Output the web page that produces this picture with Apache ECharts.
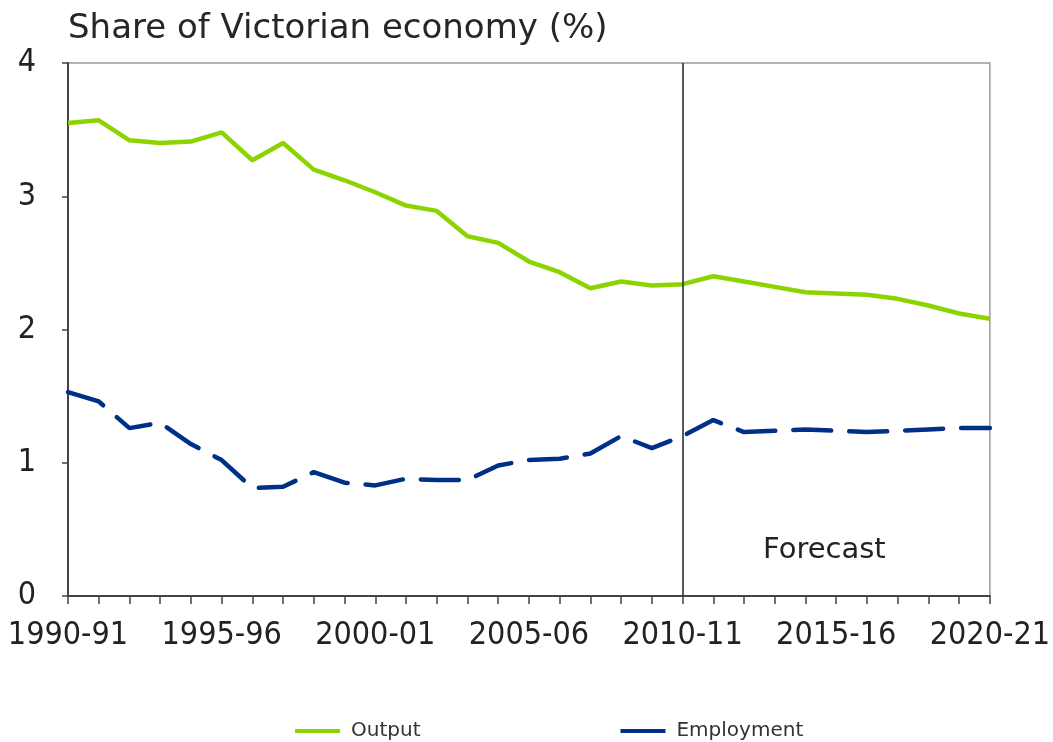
<!DOCTYPE html>
<html>
<head>
<meta charset="utf-8">
<script src="https://cdn.jsdelivr.net/npm/echarts@6/dist/echarts.min.js"></script>
<style>html,body{margin:0;padding:0;background:#fff}#c{width:1053px;height:742px}</style>
</head>
<body>
<div id="c"></div>
<script>
const categories = ['1990-91','1991-92','1992-93','1993-94','1994-95','1995-96','1996-97','1997-98','1998-99','1999-00','2000-01','2001-02','2002-03','2003-04','2004-05','2005-06','2006-07','2007-08','2008-09','2009-10','2010-11','2011-12','2012-13','2013-14','2014-15','2015-16','2016-17','2017-18','2018-19','2019-20','2020-21'];
const output = [3.55,3.57,3.42,3.40,3.41,3.48,3.27,3.40,3.20,3.12,3.03,2.93,2.89,2.70,2.65,2.51,2.43,2.31,2.36,2.33,2.34,2.40,2.36,2.32,2.28,2.27,2.26,2.23,2.18,2.12,2.08];
const employment = [1.53,1.46,1.26,1.30,1.14,1.02,0.81,0.82,0.93,0.85,0.83,0.88,0.87,0.87,0.98,1.02,1.03,1.07,1.20,1.11,1.20,1.32,1.23,1.24,1.25,1.24,1.23,1.24,1.25,1.26,1.26];
const yTicks = [0,1,2,3,4];
const forecastStart = '2010-11';

const FONT = "'DejaVu Sans Condensed','Liberation Sans Narrow','DejaVu Sans',sans-serif";
const FONT_WIDE = "'DejaVu Sans','Open Sans',sans-serif";
const chart = echarts.init(document.getElementById('c'), null, {renderer:'canvas'});
chart.setOption({
  animation:false,
  backgroundColor:'#fff',
  title:{text:'Share of Victorian economy (%)',left:63,top:7,textStyle:{fontFamily:FONT_WIDE,fontSize:34,fontWeight:'normal',color:'#262626'}},
  grid:{left:68,right:63,top:63,bottom:146,show:true,borderColor:'#9a9a9a',borderWidth:1.5,backgroundColor:'transparent'},
  legend:{top:716,left:290,itemGap:200,itemWidth:45,itemHeight:4,icon:'rect',
    textStyle:{fontFamily:FONT_WIDE,fontSize:20,color:'#333',padding:[0,0,0,6]},
    data:['Output','Employment']},
  xAxis:{type:'category',data:categories,boundaryGap:false,
    axisLine:{lineStyle:{color:'#444',width:2}},
    axisTick:{show:true,interval:0,length:8,lineStyle:{color:'#444',width:1.5}},
    axisLabel:{interval:4,margin:24,fontFamily:FONT,fontSize:32,color:'#222'},
    splitLine:{show:false}},
  yAxis:{type:'value',min:yTicks[0],max:yTicks[yTicks.length-1],interval:1,
    axisLine:{show:true,lineStyle:{color:'#444',width:2}},
    axisTick:{show:true,length:6,lineStyle:{color:'#444',width:1.5}},
    axisLabel:{margin:32,fontFamily:FONT,fontSize:32,color:'#222'},
    splitLine:{show:false}},
  graphic:[{type:'text',left:763,top:536,style:{text:'Forecast',fontFamily:FONT_WIDE,fontSize:29,fill:'#222'}}],
  series:[
    {name:'Output',type:'line',data:output,symbol:'none',lineStyle:{color:'#8CD400',width:4.5},itemStyle:{color:'#8CD400'},
      markLine:{silent:true,symbol:'none',label:{show:false},lineStyle:{color:'#222',width:1.5,type:'solid'},
        data:[[{coord:[forecastStart,yTicks[yTicks.length-1]]},{coord:[forecastStart,yTicks[0]]}]]}},
    {name:'Employment',type:'line',data:employment,symbol:'none',z:3,
      lineStyle:{color:'#002F87',width:4.5,type:[38,18],cap:'round'},itemStyle:{color:'#002F87'}}
  ]
});
</script>
</body>
</html>
